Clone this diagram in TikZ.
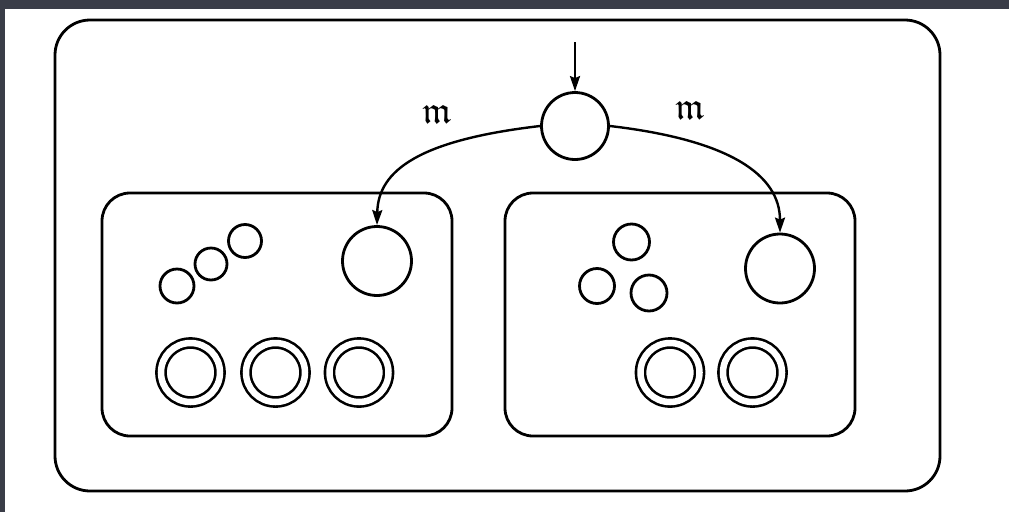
\documentclass[tikz,border=0pt]{standalone}
\usepackage{amssymb}
\usetikzlibrary{arrows.meta}
\definecolor{frame}{RGB}{58,61,72}
\begin{document}
\begin{tikzpicture}[x=1pt,y=-1pt,
  line width=2.8pt,
  ring/.style={circle,draw,inner sep=0pt,minimum size=#1},
  dring/.style={circle,draw,inner sep=0pt,minimum size=59pt,double distance=6.5pt,line width=2.6pt},
  box/.style={draw,rounded corners=#1},
  arr/.style={-{Stealth[length=15pt,width=10pt,inset=2pt]},line width=2.4pt},
  lbl/.style={font=\fontsize{38}{38}\selectfont,inner sep=0pt}]
\useasboundingbox (0,0) rectangle (1009,512);
\fill[white] (0,0) rectangle (1009,512);
\fill[frame] (0,0) rectangle (1009,9);
\fill[frame] (0,0) rectangle (5,512);
% boxes
\draw[box=35pt] (55,20) rectangle (940,491);
\draw[box=28pt] (102,193) rectangle (452,436);
\draw[box=28pt] (505,193) rectangle (855,436);
% top circle and entry
\node[ring=67pt] (top) at (575,126) {};
\coordinate (entry) at (575,42);
\draw[arr] (entry) -- (top.north);
% big circles
\node[ring=69pt] (L) at (377,261) {};
\node[ring=69pt] (R) at (780,268.5) {};
\draw[arr] (top.west) .. controls (420,140) and (378,170) .. (L.north);
\draw[arr] (top.east) .. controls (730,140) and (780,175) .. (R.north);
% labels
\node[lbl] (ml) at (437,114) {$\mathfrak{m}$};
\node[lbl] (mr) at (690,110) {$\mathfrak{m}$};
% left small circles
\node[ring=34pt] (a1) at (177,286) {};
\node[ring=32pt] (a2) at (211,264) {};
\node[ring=33pt] (a3) at (245,241) {};
% right small circles
\node[ring=36pt] (b1) at (631.5,242) {};
\node[ring=35pt] (b2) at (597,286) {};
\node[ring=36pt] (b3) at (649,293) {};
% double circles
\node[dring] (d1) at (190.5,372.5) {};
\node[dring] (d2) at (275.5,372.5) {};
\node[dring] (d3) at (359,372.5) {};
\node[dring] (d4) at (670,372.5) {};
\node[dring] (d5) at (752.5,372.5) {};
\end{tikzpicture}
\end{document}
